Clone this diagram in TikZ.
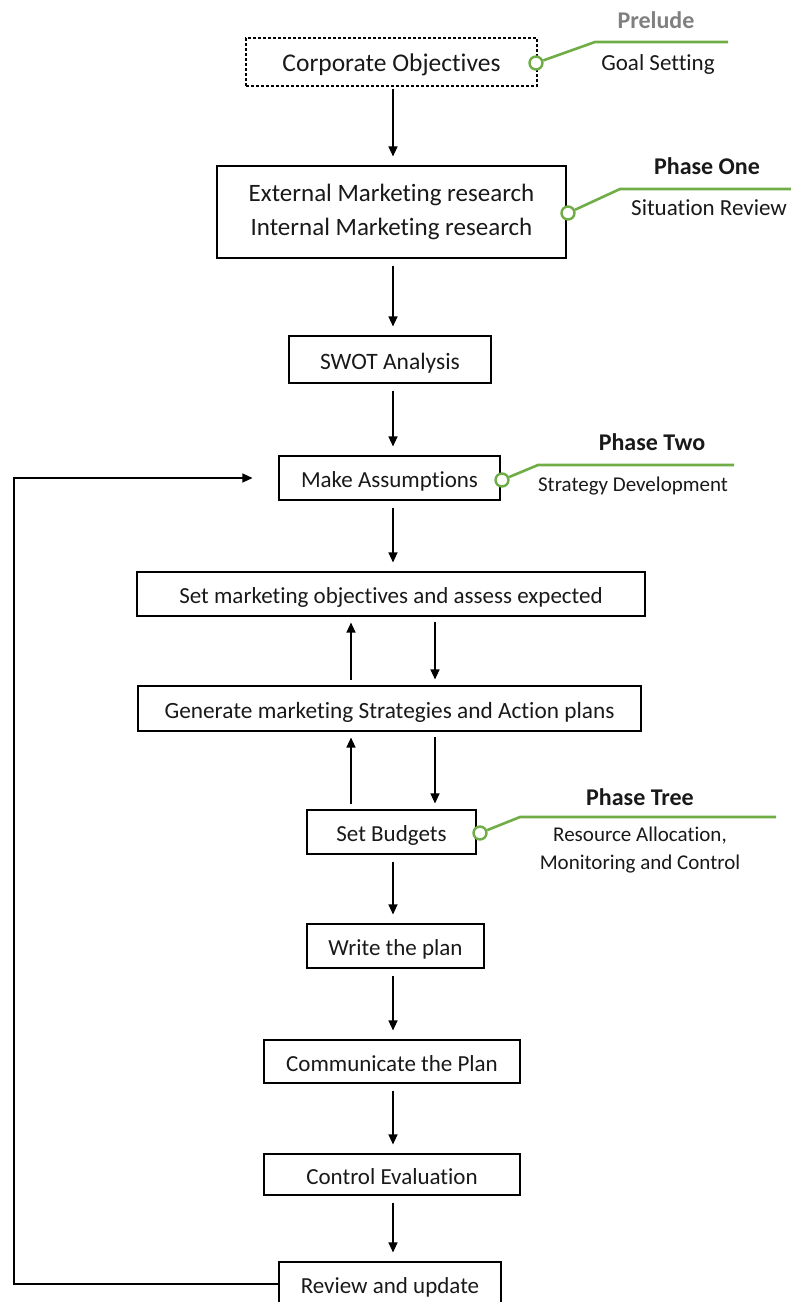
\documentclass[tikz,border=0pt]{standalone}
\usepackage{fontspec}
\setmainfont{Carlito}[RawFeature={-liga;-clig;-calt}]
\usetikzlibrary{arrows.meta}
\definecolor{callgreen}{RGB}{112,173,71}
\definecolor{ink}{RGB}{25,25,25}
\definecolor{prelgray}{RGB}{128,128,128}
\newcommand{\fs}[1]{\fontsize{#1}{#1}\selectfont}
\begin{document}
\begin{tikzpicture}[x=1pt,y=-1pt,
  box/.style={draw=black, line width=1.1pt, inner sep=0pt, text=ink, align=center},
  oneline/.style={text height=21pt, text depth=2pt},
  arr/.style={line width=1.2pt, -{Triangle[width=9pt,length=10pt]}, shorten <=7pt, shorten >=9pt},
  pair/.style={line width=1.2pt, -{Triangle[width=9pt,length=10pt]}, shorten <=5pt, shorten >=6pt},
  callline/.style={draw=callgreen, line width=2.6pt},
  dot/.style={circle, draw=callgreen, fill=white, line width=2.4pt, minimum size=13pt, inner sep=0pt},
  phase/.style={text=ink, font=\bfseries\fs{24}, inner sep=0pt},
  calltext/.style={text=ink, inner sep=0pt, align=center}
]
\useasboundingbox (0,0) rectangle (791,1302);
\coordinate (axis) at (393,0);

% process boxes
\node[box, oneline, dashed, dash pattern=on 3pt off 2pt, minimum width=291pt, minimum height=48pt, font=\fs{25.5}] (co) at (391.5,62) {Corporate Objectives};
\node[box, minimum width=349pt, minimum height=92pt, font=\fs{25}] (er) at (391.5,212) {External Marketing research\\[9pt]Internal Marketing research};
\node[box, oneline, minimum width=202pt, minimum height=47pt, font=\fs{23.5}] (sw) at (390,359.5) {SWOT Analysis};
\node[box, oneline, minimum width=221pt, minimum height=44pt, font=\fs{23}] (ma) at (389.5,478) {Make Assumptions};
\node[box, oneline, minimum width=508pt, minimum height=44pt, font=\fs{23}] (so) at (391,594) {Set marketing objectives and assess expected};
\node[box, oneline, minimum width=503pt, minimum height=45pt, font=\fs{23.3}] (gm) at (389.5,708.5) {Generate marketing Strategies and Action plans};
\node[box, oneline, minimum width=169pt, minimum height=44pt, font=\fs{23}] (sb) at (391.5,832) {Set Budgets};
\node[box, oneline, minimum width=177pt, minimum height=44pt, font=\fs{23}] (wp) at (395.5,946) {Write the plan};
\node[box, oneline, minimum width=256pt, minimum height=43pt, font=\fs{23}] (cp) at (392,1061.5) {Communicate the Plan};
\node[box, oneline, minimum width=256pt, minimum height=41pt, font=\fs{23}] (ce) at (392,1174.5) {Control Evaluation};
\node[box, oneline, minimum width=222pt, minimum height=44pt, font=\fs{23}] (rv) at (390,1284) {Review and update};

% main flow
\draw[arr, shorten <=2pt] (co.south -| axis) -- (er.north -| axis);
\draw[arr] (er.south -| axis) -- (sw.north -| axis);
\draw[arr] (sw.south -| axis) -- (ma.north -| axis);
\draw[arr] (ma.south -| axis) -- (so.north -| axis);
\draw[arr] (sb.south -| axis) -- (wp.north -| axis);
\draw[arr] (wp.south -| axis) -- (cp.north -| axis);
\draw[arr] (cp.south -| axis) -- (ce.north -| axis);
\draw[arr] (ce.south -| axis) -- (rv.north -| axis);

% iteration between objectives, strategies and budgets
\coordinate (upx) at (351,0);
\coordinate (dnx) at (435,0);
\draw[pair] (gm.north -| upx) -- (so.south -| upx);
\draw[pair] (so.south -| dnx) -- (gm.north -| dnx);
\draw[pair] (sb.north -| upx) -- (gm.south -| upx);
\draw[pair] (gm.south -| dnx) -- (sb.north -| dnx);

% feedback loop
\coordinate (loopx) at (14,0);
\draw[line width=1.2pt, -{Triangle[width=9pt,length=10pt]}, shorten >=26pt]
  (rv.west) -- (rv.west -| loopx) |- (ma.west);

% phase callouts
\node[dot] (d0) at (536,63) {};
\coordinate (k0) at (595,42);
\coordinate (e0) at (728,42);
\draw[callline] (d0) -- (k0) -- (e0);
\node[phase, text=prelgray] (p0) at (656,20) {Prelude};
\node[calltext, font=\fs{23}] (t0) at (658,64) {Goal Setting};

\node[dot] (d1) at (568,213) {};
\coordinate (k1) at (620,189);
\coordinate (e1) at (791,189);
\draw[callline] (d1) -- (k1) -- (e1);
\node[phase] (p1) at (707,166) {Phase One};
\node[calltext, font=\fs{23}, anchor=west] (t1) at (631,208) {Situation Review};

\node[dot] (d2) at (502,480) {};
\coordinate (k2) at (538,465);
\coordinate (e2) at (734,465);
\draw[callline] (d2) -- (k2) -- (e2);
\node[phase] (p2) at (652,442) {Phase Two};
\node[calltext, font=\fs{21}] (t2) at (633,486) {Strategy Development};

\node[dot] (d3) at (480,833) {};
\coordinate (k3) at (520,817);
\coordinate (e3) at (776,817);
\draw[callline] (d3) -- (k3) -- (e3);
\node[phase] (p3) at (640,797) {Phase Tree};
\node[calltext, font=\fs{21}] (t3) at (640,850) {Resource Allocation,\\[7pt]Monitoring and Control};
\end{tikzpicture}
\end{document}
